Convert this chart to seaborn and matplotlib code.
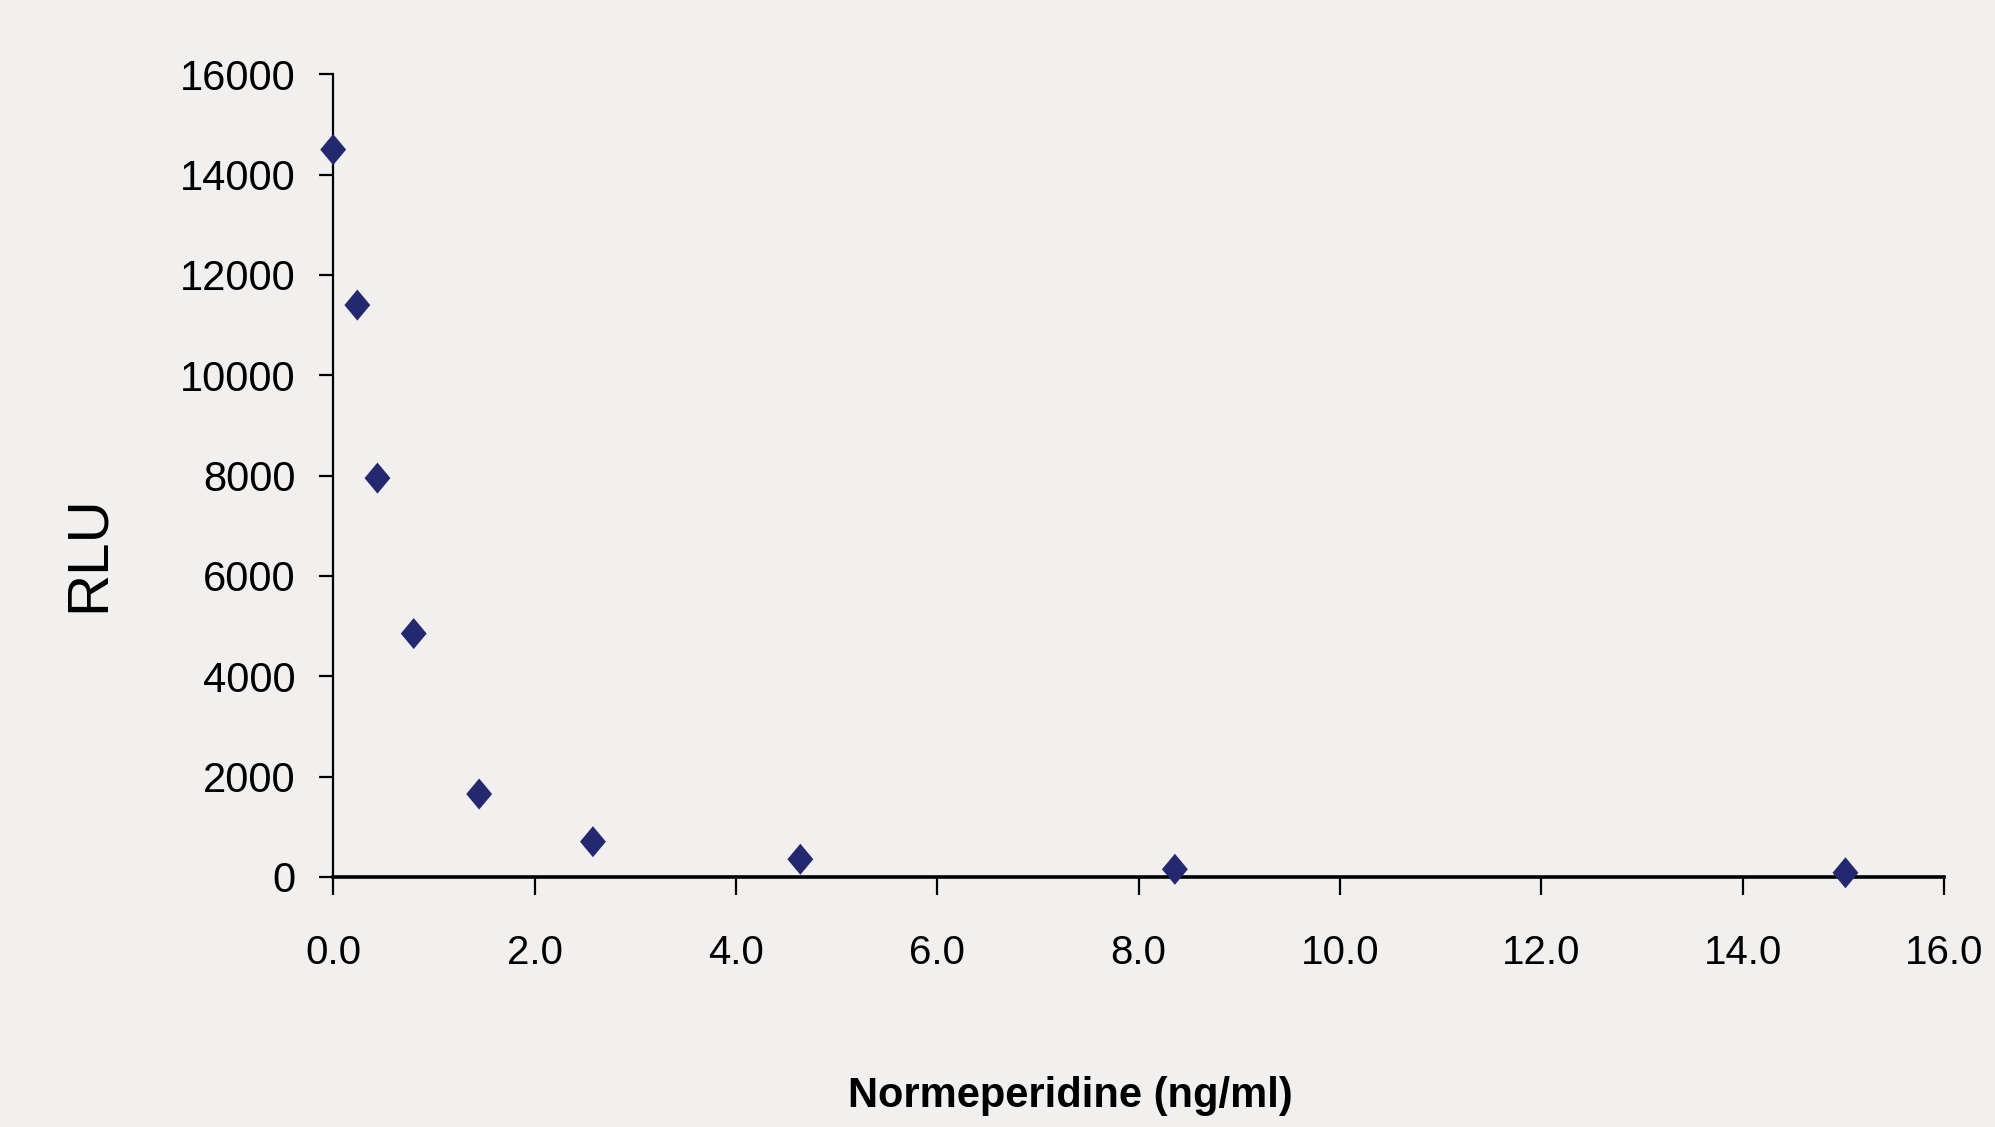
import matplotlib
matplotlib.use("Agg")
import matplotlib.pyplot as plt
import seaborn as sns
import pandas as pd
from matplotlib.path import Path
from matplotlib.markers import MarkerStyle

# Data
concentration = [0.0, 0.24, 0.44, 0.80, 1.45, 2.58, 4.64, 8.36, 15.02]
rlu = [14500, 11400, 7950, 4850, 1650, 700, 350, 150, 80]
x_ticks = [0, 2, 4, 6, 8, 10, 12, 14, 16]
y_ticks = [0, 2000, 4000, 6000, 8000, 10000, 12000, 14000, 16000]

df = pd.DataFrame({"conc": concentration, "rlu": rlu})

sns.set_theme(style="white")
plt.rcParams['font.family'] = ['Liberation Sans', 'DejaVu Sans']

bg = "#F1F0EF"
fig = plt.figure(figsize=(19.95, 11.27), dpi=100, facecolor=bg)
ax = fig.add_axes([0.167, 0.222, 0.8075, 0.712])
ax.set_facecolor(bg)

diamond = MarkerStyle(Path([(0, 0.6), (0.5, 0), (0, -0.6), (-0.5, 0), (0, 0.6)],
                           [Path.MOVETO, Path.LINETO, Path.LINETO, Path.LINETO, Path.CLOSEPOLY]))
sns.scatterplot(data=df, x="conc", y="rlu", ax=ax, marker=diamond, s=500,
                color="#24286E", edgecolor="none", linewidth=0, zorder=5, clip_on=False)

ax.set_xlim(0, 16)
ax.set_ylim(0, 16000)
ax.set_xticks(x_ticks)
ax.set_xticklabels([f"{v:.1f}" for v in x_ticks])
ax.set_yticks(y_ticks)
ax.set_yticklabels([str(v) for v in y_ticks])

for s in ["top", "right"]:
    ax.spines[s].set_visible(False)
ax.spines["left"].set_linewidth(1.6)
ax.spines["bottom"].set_linewidth(2.6)
ax.spines["left"].set_color("black")
ax.spines["bottom"].set_color("black")

ax.tick_params(axis="y", direction="out", length=10, width=1.6, pad=17,
               labelsize=30, colors="black", left=True)
ax.tick_params(axis="x", direction="out", length=13, width=1.6, pad=28,
               labelsize=29, colors="black", bottom=True)

ax.set_xlabel("Normeperidine (ng/ml)", fontsize=30, fontweight="bold", color="black")
ax.xaxis.set_label_coords((1070 - 333) / (1944 - 333), -(1076 - 877) / (877 - 74))
ax.set_ylabel("RLU", fontsize=42, color="black")
ax.yaxis.set_label_coords(-(333 - 116) / (1944 - 333), (877 - 554) / (877 - 74))
ax.grid(False)

fig.savefig("out.png", dpi=100, facecolor=bg)
